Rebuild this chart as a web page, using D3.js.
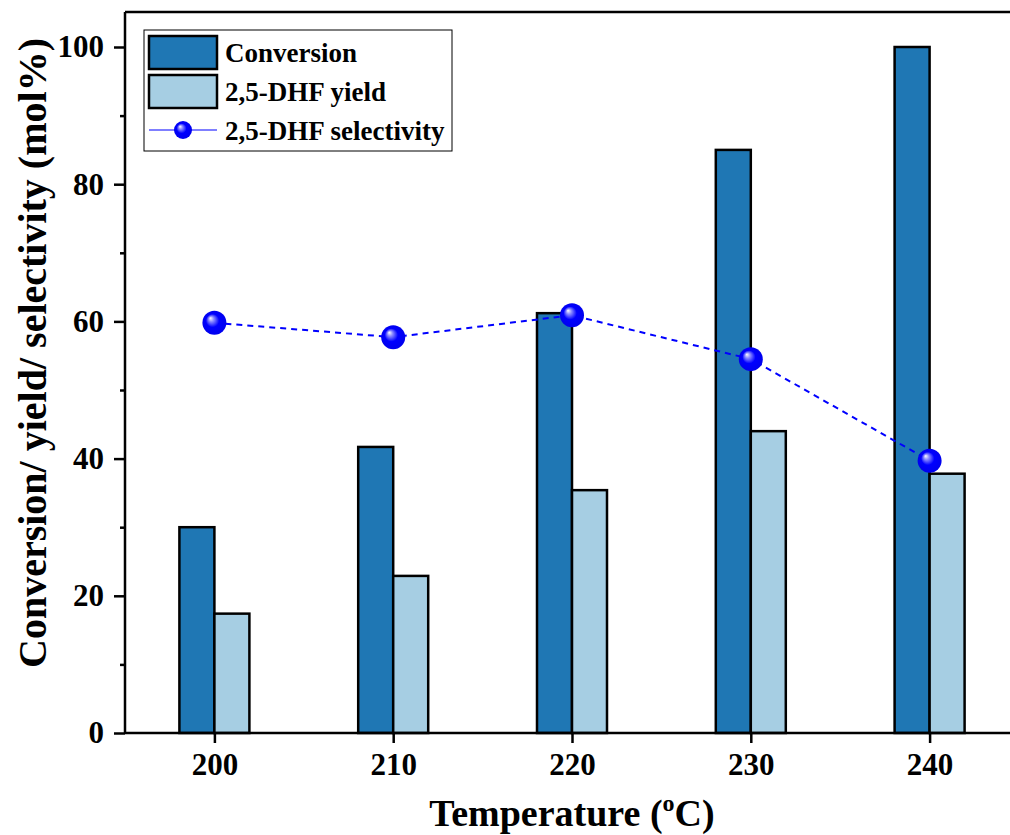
<!DOCTYPE html>
<html>
<head>
<meta charset="utf-8">
<script src="https://cdn.jsdelivr.net/npm/d3@7"></script>
<style>
body { margin: 0; background: #fff; }
svg text { font-family: "Liberation Serif", "Times New Roman", serif; font-weight: bold; }
</style>
</head>
<body>
<svg width="1010" height="835"></svg>
<script>
const svg = d3.select('svg');

// data
var temps = [200, 210, 220, 230, 240];
var conversion = [30.0, 41.7, 61.2, 85.0, 100.0];
var yieldVals = [17.4, 22.9, 35.4, 44.0, 37.8];
var selectivity = [59.8, 57.7, 60.9, 54.5, 39.7];
var yTicks = [0, 20, 40, 60, 80, 100];

// layout
var plotLeft = 125, plotRight = 1019, plotTop = 12, plotBottom = 733;
var barW = 35;

var x = d3.scaleLinear().domain([195, 245]).range([plotLeft, plotRight]);
var y = d3.scaleLinear().domain([0, 100]).range([plotBottom, 47]);

// gradient for the sphere markers
var defs = svg.append("defs");
var grad = defs.append("radialGradient")
    .attr("id", "ball")
    .attr("cx", "0.5").attr("cy", "0.5").attr("r", "0.5")
    .attr("fx", "0.33").attr("fy", "0.3");
grad.append("stop").attr("offset", "0%").attr("stop-color", "#ffffff");
grad.append("stop").attr("offset", "22%").attr("stop-color", "#8c8cff");
grad.append("stop").attr("offset", "55%").attr("stop-color", "#0000ff");
grad.append("stop").attr("offset", "100%").attr("stop-color", "#0000ee");

// bars
svg.append("g").selectAll("rect")
    .data(conversion)
    .enter()
    .append("rect")
    .attr("x", function(d, i) { return x(temps[i]) - barW; })
    .attr("y", function(d) { return y(d); })
    .attr("width", barW)
    .attr("height", function(d) { return plotBottom - y(d); })
    .attr("fill", "#1f77b4")
    .attr("stroke", "#000")
    .attr("stroke-width", 2.5);

svg.append("g").selectAll("rect")
    .data(yieldVals)
    .enter()
    .append("rect")
    .attr("x", function(d, i) { return x(temps[i]); })
    .attr("y", function(d) { return y(d); })
    .attr("width", barW)
    .attr("height", function(d) { return plotBottom - y(d); })
    .attr("fill", "#a6cee3")
    .attr("stroke", "#000")
    .attr("stroke-width", 2.5);

// selectivity line
var line = d3.line()
    .x(function(d, i) { return x(temps[i]); })
    .y(function(d) { return y(d); });

svg.append("path")
    .datum(selectivity)
    .attr("d", line)
    .attr("fill", "none")
    .attr("stroke", "#0000ff")
    .attr("stroke-width", 2)
    .attr("stroke-dasharray", "6,5");

svg.append("g").selectAll("circle")
    .data(selectivity)
    .enter()
    .append("circle")
    .attr("cx", function(d, i) { return x(temps[i]); })
    .attr("cy", function(d) { return y(d); })
    .attr("r", 12)
    .attr("fill", "url(#ball)");

// axes
var yAxis = d3.axisLeft(y).tickValues(yTicks).tickSize(11).tickPadding(10);
var gy = svg.append("g").attr("transform", "translate(" + plotLeft + ",0)").call(yAxis);
var yMinor = d3.axisLeft(y).tickValues([10, 30, 50, 70, 90]).tickSize(5).tickFormat("");
var gm = svg.append("g").attr("transform", "translate(" + plotLeft + ",0)").call(yMinor);
gm.select(".domain").remove();
gm.selectAll("line").attr("stroke", "#000").attr("stroke-width", 2.5);

var xAxis = d3.axisBottom(x).tickValues(temps).tickSize(10).tickPadding(10).tickFormat(d3.format("d"));
var gx = svg.append("g").attr("transform", "translate(0," + plotBottom + ")").call(xAxis);

[gx, gy].forEach(function(g) {
    g.attr("font-size", null).attr("font-family", null);
    g.selectAll("text").attr("fill", "#000").style("font-size", "31px");
    g.selectAll("line").attr("stroke", "#000").attr("stroke-width", 2.5);
    g.select(".domain").remove();
});

// frame
svg.append("line").attr("x1", plotLeft).attr("x2", plotLeft).attr("y1", plotTop).attr("y2", plotBottom)
    .attr("stroke", "#000").attr("stroke-width", 2.5);
svg.append("line").attr("x1", plotLeft).attr("x2", plotRight).attr("y1", plotBottom).attr("y2", plotBottom)
    .attr("stroke", "#000").attr("stroke-width", 2.5);
svg.append("line").attr("x1", plotLeft).attr("x2", plotRight).attr("y1", plotTop).attr("y2", plotTop)
    .attr("stroke", "#000").attr("stroke-width", 2.5);

// axis titles
svg.append("text")
    .attr("transform", "translate(46,353) rotate(-90)")
    .attr("text-anchor", "middle")
    .style("font-size", "40px")
    .text("Conversion/ yield/ selectivity (mol%)");

var xt = svg.append("text")
    .attr("x", 572)
    .attr("y", 826)
    .attr("text-anchor", "middle")
    .style("font-size", "38px");
xt.append("tspan").text("Temperature (");
xt.append("tspan").style("font-size", "24px").attr("dy", -15).text("o");
xt.append("tspan").attr("dy", 15).text("C)");

// legend
var lg = svg.append("g");
lg.append("rect").attr("x", 144).attr("y", 30).attr("width", 308).attr("height", 121)
    .attr("fill", "#fff").attr("stroke", "#000").attr("stroke-width", 1);
var legendItems = [
    { label: "Conversion", fill: "#1f77b4" },
    { label: "2,5-DHF yield", fill: "#a6cee3" }
];
legendItems.forEach(function(d, i) {
    lg.append("rect").attr("x", 149).attr("y", 36 + i * 39).attr("width", 68).attr("height", 33)
        .attr("fill", d.fill).attr("stroke", "#000").attr("stroke-width", 2.5);
    lg.append("text").attr("x", 225).attr("y", 62 + i * 39).style("font-size", "27px").text(d.label);
});
lg.append("line").attr("x1", 149).attr("x2", 217).attr("y1", 130).attr("y2", 130)
    .attr("stroke", "#0000ff").attr("stroke-width", 1.2);
lg.append("circle").attr("cx", 183).attr("cy", 130).attr("r", 9).attr("fill", "url(#ball)");
lg.append("text").attr("x", 225).attr("y", 140).style("font-size", "27px").text("2,5-DHF selectivity");
</script>
</body>
</html>
